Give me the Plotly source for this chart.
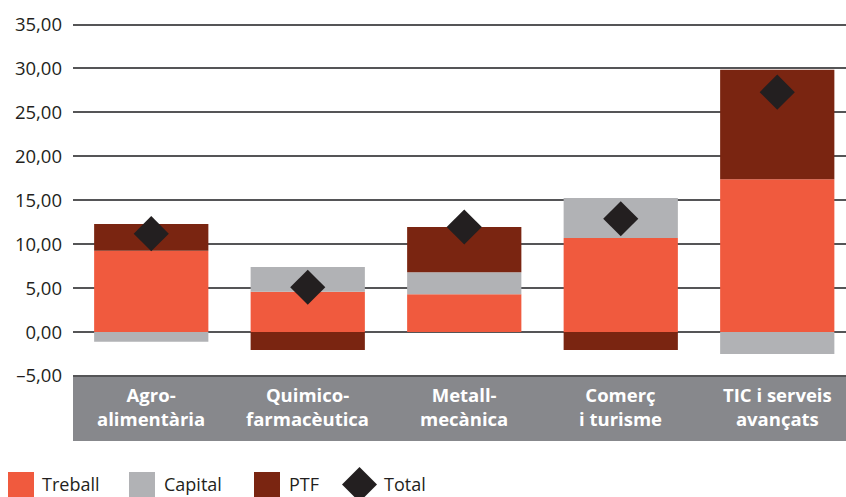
import plotly.graph_objects as go

# ---- data ----
sectors = ["Agro-alimentària", "Quimico-farmacèutica", "Metall-mecànica",
           "Comerç i turisme", "TIC i serveis avançats"]
label_lines = ["Agro-<br>alimentària", "Quimico-<br>farmacèutica", "Metall-<br>mecànica",
               "Comerç<br>i turisme", "TIC i serveis<br>avançats"]
treball = [9.25, 4.6, 4.3, 10.7, 17.4]
capital = [-1.1, 2.8, 2.5, 4.55, -2.5]
ptf = [3.05, -2.05, 5.15, -2.05, 12.45]
total = [11.2, 5.1, 11.95, 12.9, 27.3]
tick_vals = [-5, 0, 5, 10, 15, 20, 25, 30, 35]
tick_text = ["–5,00", "0,00", "5,00", "10,00", "15,00", "20,00", "25,00", "30,00", "35,00"]
legend_names = ["Treball", "Capital", "PTF", "Total"]

# ---- styles ----
C_TREBALL = "#f05a3e"
C_CAPITAL = "#b1b2b5"
C_PTF = "#7a2511"
C_TOTAL = "#231f20"
C_BAND = "#87888c"
C_GRID = "#555557"
FONT = "Open Sans"

W, H = 846, 497
L, R, T, B = 73, 846, 16, 441
ppu = (376 - 24.5) / 40.0
y_top = 35 + (24.5 - T) / ppu
y_bot = -5 - (B - 376) / ppu
x_lo = -0.5
x_hi = x_lo + (R - L) / 156.5

def px(x):
    return (x - L) / (R - L)

def py(y):
    return (B - y) / (B - T)

xs = list(range(len(sectors)))

fig = go.Figure()
fig.add_bar(x=xs, y=treball, name="Treball", marker=dict(color=C_TREBALL, line_width=0), width=0.73)
fig.add_bar(x=xs, y=capital, name="Capital", marker=dict(color=C_CAPITAL, line_width=0), width=0.73)
fig.add_bar(x=xs, y=ptf, name="PTF", marker=dict(color=C_PTF, line_width=0), width=0.73)
fig.add_scatter(x=xs, y=total, name="Total", mode="markers",
                marker=dict(symbol="diamond", size=27, color=C_TOTAL, line_width=0),
                cliponaxis=False)

shapes = [
    dict(type="rect", xref="paper", yref="y", x0=0, x1=1, y0=y_bot, y1=-5,
         fillcolor=C_BAND, line_width=0, layer="between"),
    dict(type="line", xref="paper", yref="y", x0=0, x1=1, y0=-5, y1=-5,
         line=dict(color="#4a4a4c", width=1.5), layer="between"),
]
annotations = []
for i in xs:
    annotations.append(dict(x=i, y=-5 - (406 - 376) / ppu, xref="x", yref="y",
                            yanchor="middle",
                            text="<b>%s</b>" % label_lines[i], showarrow=False,
                            font=dict(family=FONT, size=18.5, color="white")))

# manual legend
sq = [(8, C_TREBALL, 40), (129, C_CAPITAL, 162), (254, C_PTF, 287)]
for (x0, col, tx), name in zip(sq, legend_names[:3]):
    shapes.append(dict(type="rect", xref="paper", yref="paper",
                       x0=px(x0), x1=px(x0 + 26), y0=py(472), y1=py(497),
                       fillcolor=col, line_width=0))
    annotations.append(dict(x=px(tx), y=py(484), xref="paper", yref="paper",
                            xanchor="left", yanchor="middle", text=name, showarrow=False,
                            font=dict(family=FONT, size=18, color=C_TOTAL)))
cx, cy, r = 359.5, 484.5, 17.5
path = "M %f,%f L %f,%f L %f,%f L %f,%f Z" % (
    px(cx - r), py(cy), px(cx), py(cy - r), px(cx + r), py(cy), px(cx), py(cy + r))
shapes.append(dict(type="path", xref="paper", yref="paper", path=path,
                   fillcolor=C_TOTAL, line_width=0))
annotations.append(dict(x=px(382), y=py(484), xref="paper", yref="paper",
                        xanchor="left", yanchor="middle", text=legend_names[3], showarrow=False,
                        font=dict(family=FONT, size=18, color=C_TOTAL)))

fig.update_layout(
    width=W, height=H,
    margin=dict(l=L, r=W - R, t=T, b=H - B, pad=0),
    barmode="relative",
    showlegend=False,
    plot_bgcolor="white", paper_bgcolor="white",
    font=dict(family=FONT, size=18, color=C_TOTAL),
    shapes=shapes, annotations=annotations,
    xaxis=dict(range=[x_lo, x_hi], showticklabels=False, showgrid=False,
               zeroline=False, showline=False, ticks=""),
    yaxis=dict(range=[y_bot, y_top], tickvals=tick_vals, ticktext=tick_text,
               showgrid=True, gridcolor=C_GRID, gridwidth=1.5, zeroline=False,
               showline=False, ticks="", ticklabelstandoff=10,
               tickfont=dict(family=FONT, size=18.5, color=C_TOTAL)),
)

fig.write_html("out.html", config={"displayModeBar": False},
               post_script="document.body.style.margin='0px';document.body.style.overflow='hidden';")
